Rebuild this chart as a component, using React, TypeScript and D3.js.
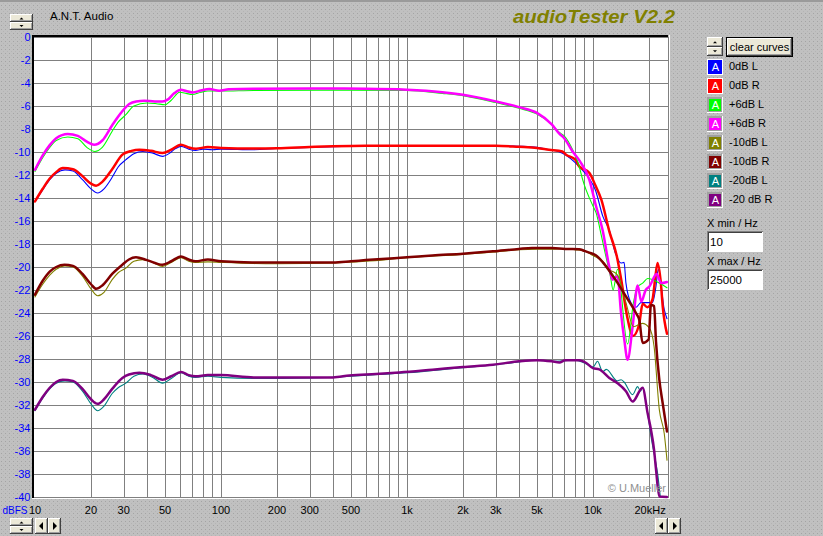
import React from 'react';
import * as d3 from 'd3';

type P = [number, number];

const xTickValues = [10, 20, 30, 50, 100, 200, 300, 500, 1000, 2000, 3000, 5000, 10000, 20000];
const xTickLabels = ['10', '20', '30', '50', '100', '200', '300', '500', '1k', '2k', '3k', '5k', '10k', '20kHz'];
const yTickValues = [0, -2, -4, -6, -8, -10, -12, -14, -16, -18, -20, -22, -24, -26, -28, -30, -32, -34, -36, -38, -40];

const seriesNames = ['0dB L', '0dB R', '+6dB L', '+6dB R', '-10dB L', '-10dB R', '-20dB L', '-20 dB R'];
const seriesColors = ['#0000ff', '#ff0000', '#00ff00', '#ff00ff', '#808000', '#800000', '#008080', '#800080'];

const blue0L: P[] = [[10,-14.3],[11,-13.3],[12,-12.4],[13,-11.85],[14.5,-11.55],[16,-11.65],[18,-12.4],[20,-13.2],[21.7,-13.57],[23.5,-13.2],[26,-12.2],[28,-11.3],[30.8,-10.67],[34,-10.15],[38,-9.95],[43,-10.1],[48.5,-10.38],[53,-10.1],[57,-9.7],[61,-9.51],[67,-9.75],[73,-9.86],[80,-9.75],[90,-9.8],[100,-9.75],[150,-9.8],[200,-9.7],[300,-9.6],[500,-9.5],[1000,-9.45],[2000,-9.45],[3000,-9.45],[4000,-9.5],[5000,-9.6],[5800,-9.8],[6500,-9.95],[7200,-10.3],[8000,-10.9],[8800,-11.6],[9550,-12.3],[10300,-13.3],[11300,-15.6],[12240,-16.8],[13200,-18.8],[14150,-19.65],[14700,-19.6],[15040,-21.4],[16000,-23.1],[17020,-23.5],[18100,-23.1],[20900,-23.1],[21800,-21.7],[22440,-20.2],[24170,-23.7],[25000,-24.5]];
const red0R: P[] = [[10,-14.3],[11,-13.2],[12,-12.3],[13,-11.75],[14.1,-11.4],[16,-11.5],[18,-12.1],[20,-12.75],[21.3,-12.93],[23,-12.6],[26,-11.5],[29.5,-10.23],[33,-9.9],[36.4,-9.8],[42,-9.9],[48.5,-10.09],[54,-9.8],[60.9,-9.37],[67,-9.6],[73.4,-9.71],[85,-9.57],[100,-9.65],[150,-9.7],[200,-9.68],[300,-9.57],[400,-9.5],[600,-9.45],[1000,-9.45],[3000,-9.45],[4000,-9.55],[5000,-9.65],[5800,-9.8],[6850,-9.95],[7160,-10.23],[8040,-10.67],[8430,-11.25],[9550,-11.8],[10300,-12.9],[11090,-14.15],[12240,-16.9],[13440,-19.08],[14150,-21.0],[15350,-24.5],[16400,-26],[17700,-25],[18500,-23.2],[19600,-23.5],[20900,-22.8],[21600,-21],[22240,-19.65],[23200,-21.5],[23700,-23.4],[25000,-25.8]];
const green6L: P[] = [[10,-11.69],[11,-10.5],[12,-9.6],[13,-9.0],[15,-8.7],[17,-8.85],[19,-9.6],[21,-9.95],[23,-9.6],[26,-8.2],[28,-7.4],[30.8,-6.76],[34,-6.0],[40,-5.74],[45,-5.8],[50,-5.89],[54,-5.5],[60,-4.81],[65,-4.9],[70,-5.0],[78,-4.8],[85,-4.7],[100,-4.7],[150,-4.65],[500,-4.62],[1000,-4.65],[1550,-4.9],[2000,-5.1],[3000,-5.7],[4000,-6.2],[5000,-6.7],[6000,-7.6],[6590,-8.3],[7000,-8.6],[7770,-9.8],[8430,-11.25],[8800,-12.4],[10000,-14.7],[10400,-15.3],[11100,-17.3],[11740,-19.1],[12400,-20.8],[12830,-22],[13550,-20.2],[15350,-26.7],[16500,-23.1],[17400,-21.7],[18500,-21.4],[19700,-21.0],[22700,-21.4],[25000,-21.8]];
const magenta6R: P[] = [[10,-11.54],[11,-10.3],[12,-9.4],[13,-8.8],[15,-8.43],[17,-8.6],[19,-9.1],[20.8,-9.37],[23,-9.0],[26.1,-7.63],[29,-6.6],[32.1,-5.83],[35,-5.6],[38.7,-5.54],[44,-5.6],[48.5,-5.6],[51.6,-5.45],[56,-4.9],[60.9,-4.58],[65,-4.7],[70.4,-4.82],[78,-4.65],[86.6,-4.52],[97.8,-4.67],[110,-4.55],[150,-4.5],[300,-4.48],[600,-4.5],[1000,-4.58],[1550,-4.8],[2000,-5.03],[3000,-5.6],[4000,-6.1],[5000,-6.6],[6000,-7.6],[6590,-8.4],[7000,-8.8],[7770,-9.95],[8500,-10.8],[9550,-12.4],[10380,-14.7],[11270,-16.8],[12240,-20.0],[12740,-21.1],[13550,-20.8],[14150,-24.0],[14730,-26.3],[15350,-28.06],[16330,-25.2],[17380,-21.6],[18200,-23.0],[19200,-22.0],[20100,-21.7],[22000,-20.6],[23200,-21.4],[25000,-21.3]];
const olive10L: P[] = [[10,-22.6],[11,-21.5],[12,-20.7],[13,-20.2],[14.5,-19.9],[16,-20.0],[18,-20.8],[20,-21.9],[21.7,-22.5],[23.5,-22.2],[26,-21.1],[28,-20.5],[30.8,-20.1],[34,-19.5],[38,-19.36],[43,-19.6],[48.5,-19.95],[54,-19.6],[61,-19.2],[67,-19.5],[73,-19.6],[85,-19.55],[100,-19.6],[150,-19.7],[200,-19.72],[400,-19.65],[600,-19.5],[1000,-19.2],[2000,-18.9],[3000,-18.7],[4000,-18.5],[5000,-18.45],[6000,-18.45],[7000,-18.4],[8000,-18.5],[9000,-18.6],[10000,-19.0],[11270,-19.5],[12200,-20.2],[13550,-20.7],[15040,-23.1],[16520,-25.2],[18430,-24.9],[20090,-25.3],[21300,-26.9],[22730,-32.4],[24170,-34.5],[25000,-36.8]];
const maroon10R: P[] = [[10,-22.4],[11,-21.2],[12,-20.4],[13,-20.0],[14.4,-19.8],[16,-19.9],[18,-20.6],[20,-21.5],[21.3,-21.9],[23,-21.6],[26,-20.6],[29.5,-19.8],[32,-19.35],[34.9,-19.16],[40,-19.4],[48.5,-19.8],[54,-19.5],[60.9,-19.08],[67,-19.35],[73,-19.5],[85,-19.35],[100,-19.5],[147,-19.6],[400,-19.6],[500,-19.5],[600,-19.4],[770,-19.28],[1000,-19.16],[1370,-18.99],[2000,-18.84],[2900,-18.64],[4000,-18.43],[4700,-18.35],[6000,-18.35],[7100,-18.43],[8430,-18.45],[9000,-18.6],[9550,-18.75],[10400,-19.0],[11300,-19.6],[13200,-21.1],[15040,-22.56],[17020,-24.0],[17740,-24.6],[18480,-26.6],[19900,-26.3],[20500,-23.3],[21300,-23.4],[21820,-26.5],[22730,-29.8],[23680,-31.8],[25000,-34.3]];
const teal20L: P[] = [[10,-32.5],[11,-31.4],[12,-30.6],[13,-30.1],[14.5,-29.9],[16,-30.0],[18,-30.8],[20,-31.9],[21.7,-32.5],[23.5,-32.1],[26,-31.0],[28,-30.5],[30.8,-30.1],[34,-29.5],[38,-29.3],[43,-29.6],[48.5,-30.1],[54,-29.7],[61,-29.2],[67,-29.5],[73,-29.6],[85,-29.5],[100,-29.6],[150,-29.7],[300,-29.65],[500,-29.5],[700,-29.35],[1000,-29.2],[2000,-28.75],[3000,-28.5],[4000,-28.25],[5000,-28.1],[6000,-28.2],[7000,-28.15],[8000,-28.1],[9000,-28.35],[10000,-28.7],[10580,-28.2],[11270,-29.1],[11800,-28.9],[13500,-29.9],[14150,-29.8],[14700,-30.0],[16330,-31.1],[17380,-30.4],[18000,-30.8],[18480,-30.5],[19660,-32.7],[20500,-34.7],[22240,-37.9],[23200,-40],[25000,-40]];
const purple20R: P[] = [[10,-32.4],[11,-31.3],[12,-30.5],[13,-30.0],[14.1,-29.8],[16,-29.9],[18,-30.6],[20,-31.5],[21.7,-31.9],[23.5,-31.5],[26,-30.6],[29.5,-29.65],[32,-29.35],[36.4,-29.2],[42,-29.4],[48.5,-29.8],[54,-29.5],[61,-29.13],[67,-29.4],[73,-29.5],[85,-29.4],[100,-29.4],[150,-29.6],[400,-29.6],[490,-29.43],[680,-29.3],[910,-29.17],[1370,-28.93],[2000,-28.7],[2900,-28.5],[4000,-28.2],[5000,-28.1],[6000,-28.2],[6600,-28.3],[7100,-28.1],[8430,-28.1],[9200,-28.35],[10000,-28.8],[10800,-28.9],[12240,-29.65],[13550,-30.1],[15040,-30.8],[16330,-31.7],[18480,-30.5],[19660,-32.7],[20500,-34.15],[21300,-35.9],[21820,-37.6],[22730,-39.95],[25000,-40]];

const seriesData: P[][] = [blue0L, red0R, green6L, magenta6R, olive10L, maroon10R, teal20L, purple20R];
const seriesThick = [false, true, false, true, false, true, false, true];

const FONT = '"Liberation Sans", Arial, sans-serif';

const PL = 34, PR = 668, PT = 37, PB = 498;

function Btn({ x, y, w, h }: { x: number; y: number; w: number; h: number }) {
  return (
    <g shapeRendering="crispEdges">
      <rect x={x} y={y} width={w} height={h} fill="#ece9d8" />
      <path d={`M${x + 0.5},${y + h}V${y + 0.5}H${x + w}`} stroke="#ffffff" fill="none" />
      <path d={`M${x},${y + h - 0.5}H${x + w - 0.5}V${y}`} stroke="#404040" fill="none" />
      <path d={`M${x + 1},${y + h - 1.5}H${x + w - 1.5}V${y + 1}`} stroke="#a0a0a0" fill="none" />
    </g>
  );
}

function Spinner({ x, y, w, h }: { x: number; y: number; w: number; h: number }) {
  const h2 = h / 2;
  const cx = x + w / 2;
  return (
    <g>
      <Btn x={x} y={y} w={w} h={h2} />
      <Btn x={x} y={y + h2} w={w} h={h2} />
      <path d={`M${cx - 2},${y + h2 / 2 + 1.5}L${cx + 2},${y + h2 / 2 + 1.5}L${cx},${y + h2 / 2 - 0.5}Z`} fill="#000" />
      <path d={`M${cx - 2},${y + h2 + h2 / 2 - 1}L${cx + 2},${y + h2 + h2 / 2 - 1}L${cx},${y + h2 + h2 / 2 + 1}Z`} fill="#000" />
    </g>
  );
}

function ArrowPair({ x, y }: { x: number; y: number }) {
  return (
    <g>
      <Btn x={x} y={y} w={13} h={16} />
      <Btn x={x + 13} y={y} w={13} h={16} />
      <path d={`M${x + 8},${y + 4}L${x + 8},${y + 12}L${x + 4},${y + 8}Z`} fill="#000" />
      <path d={`M${x + 18},${y + 4}L${x + 18},${y + 12}L${x + 22},${y + 8}Z`} fill="#000" />
    </g>
  );
}

export default function App() {
  const x = d3.scaleLog().domain([10, 25000]).range([35, 667]);
  const y = d3.scaleLinear().domain([0, -40]).range([37, 497]);

  const gridFreqs: number[] = [];
  [10, 100, 1000, 10000].forEach((d) => {
    for (let m = 1; m <= 9; m++) {
      const f = d * m;
      if (f > 10 && f <= 20000) gridFreqs.push(f);
    }
  });

  const line = d3
    .line<P>()
    .x((d) => x(d[0]))
    .y((d) => y(d[1]))
    .curve(d3.curveMonotoneX);

  const legendY0 = 59;
  const legendStep = 19;

  return (
    <svg
      width={823}
      height={536}
      style={{ position: 'absolute', left: 0, top: 0, display: 'block' }}
      fontFamily={FONT}
    >
      <defs>
        <pattern id="dots" width={4} height={4} patternUnits="userSpaceOnUse">
          <rect width={4} height={4} fill="#c0c0c0" />
          <rect x={1} y={1} width={1} height={1} fill="#a4a4a4" />
          <rect x={3} y={3} width={1} height={1} fill="#b4b4b4" />
        </pattern>
        <clipPath id="plotClip">
          <rect x={PL} y={PT - 1} width={PR - PL} height={PB - PT + 2} />
        </clipPath>
      </defs>
      <rect width={823} height={536} fill="url(#dots)" />
      <rect x={0} y={0} width={823} height={2} fill="#9a9a9a" />

      {/* plot background */}
      <rect x={PL} y={PT} width={PR - PL} height={PB - PT} fill="#ffffff" />
      <g shapeRendering="crispEdges" stroke="#808080" strokeWidth={1}>
        {yTickValues.map((v) => (
          <line key={'h' + v} x1={PL} x2={PR} y1={Math.round(y(v)) + 0.5} y2={Math.round(y(v)) + 0.5} />
        ))}
        {gridFreqs.map((f) => (
          <line key={'v' + f} x1={Math.round(x(f)) + 0.5} x2={Math.round(x(f)) + 0.5} y1={PT} y2={PB} />
        ))}
        <line x1={PR + 0.5} x2={PR + 0.5} y1={PT} y2={PB} />
      </g>
      <rect x={PR + 1} y={PT - 2} width={1} height={PB - PT + 3} fill="#ffffff" />
      <rect x={32} y={PB} width={PR - 30} height={1} fill="#ffffff" />
      <rect x={32} y={35} width={2} height={PB - 35} fill="#000000" />
      <rect x={32} y={35} width={PR - 32} height={2} fill="#000000" />

      {/* curves */}
      <g clipPath="url(#plotClip)" fill="none" strokeLinejoin="round" strokeLinecap="round">
        {seriesData.map((s, i) => (
          <path
            key={seriesNames[i]}
            d={line(s) || ''}
            stroke={seriesColors[i]}
            strokeWidth={seriesThick[i] ? 2.5 : 1.1}
          />
        ))}
      </g>

      <text x={666} y={492} textAnchor="end" fontSize={11} fill="#909090">© U.Mueller</text>

      {/* y labels */}
      {yTickValues.map((v) => (
        <text key={'yl' + v} x={30.5} y={y(v) + 4} textAnchor="end" fontSize={11} fill="#0000ff">
          {String(v)}
        </text>
      ))}

      {/* x labels */}
      <text x={2.5} y={514} fontSize={11} fill="#0000ff" textLength={25} lengthAdjust="spacingAndGlyphs">dBFS</text>
      {xTickValues.map((f, i) => {
        const last = i === xTickValues.length - 1;
        const first = i === 0;
        return (
          <text
            key={'xl' + f}
            x={last ? x(f) - 14.5 : first ? x(f) - 6 : x(f)}
            y={514}
            textAnchor={last || first ? 'start' : 'middle'}
            fontSize={11}
            fill="#000000"
          >
            {xTickLabels[i]}
          </text>
        );
      })}

      {/* header */}
      <text x={50} y={20} fontSize={11.5} fill="#000000">A.N.T. Audio</text>
      <text x={513} y={23} fontSize={19} fontWeight="bold" fontStyle="italic" fill="#808000" textLength={162} lengthAdjust="spacingAndGlyphs">
        audioTester V2.2
      </text>

      {/* controls */}
      <Spinner x={10} y={14} w={23} h={16} />
      <Spinner x={10} y={518} w={23} h={16} />
      <ArrowPair x={35} y={518} />
      <ArrowPair x={655} y={518} />
      <Spinner x={707} y={37} w={16} h={19} />
      <g>
        <rect x={726} y={37} width={67} height={20} fill="#000" />
        <Btn x={727} y={38} w={65} h={18} />
        <text x={759.5} y={51} textAnchor="middle" fontSize={11} fill="#000">clear curves</text>
      </g>

      {/* legend */}
      {seriesNames.map((n, i) => {
        const by = legendY0 + i * legendStep;
        const pressed = i < 2;
        return (
          <g key={'lg' + n}>
            {pressed ? (
              <g shapeRendering="crispEdges">
                <rect x={707} y={by} width={16} height={16} fill="#ffffff" />
                <rect x={708} y={by + 1} width={14} height={14} fill={seriesColors[i]} />
              </g>
            ) : (
              <g shapeRendering="crispEdges">
                <rect x={707} y={by} width={16} height={16} fill="#ffffff" />
                <rect x={707} y={by} width={15} height={15} fill="#a0a0a0" />
                <rect x={709} y={by + 2} width={12} height={12} fill={seriesColors[i]} />
              </g>
            )}
            <text x={715.5} y={by + 12} textAnchor="middle" fontSize={11} fill="#ffffff">A</text>
            <text x={729} y={by + 11} fontSize={11} fill="#000">{n}</text>
          </g>
        );
      })}

      <text x={707} y={227} fontSize={11} fill="#000">X min / Hz</text>
      <g shapeRendering="crispEdges">
        <rect x={707} y={231} width={56} height={21} fill="#ffffff" />
        <path d="M707.5,252V231.5H763" stroke="#808080" fill="none" />
        <path d="M708.5,251V232.5H762" stroke="#404040" fill="none" />
      </g>
      <text x={710} y={246} fontSize={11.5} fill="#000">10</text>

      <text x={707} y={265} fontSize={11} fill="#000">X max / Hz</text>
      <g shapeRendering="crispEdges">
        <rect x={707} y={269} width={56} height={21} fill="#ffffff" />
        <path d="M707.5,290V269.5H763" stroke="#808080" fill="none" />
        <path d="M708.5,289V270.5H762" stroke="#404040" fill="none" />
      </g>
      <text x={710} y={284} fontSize={11.5} fill="#000">25000</text>
    </svg>
  );
}
